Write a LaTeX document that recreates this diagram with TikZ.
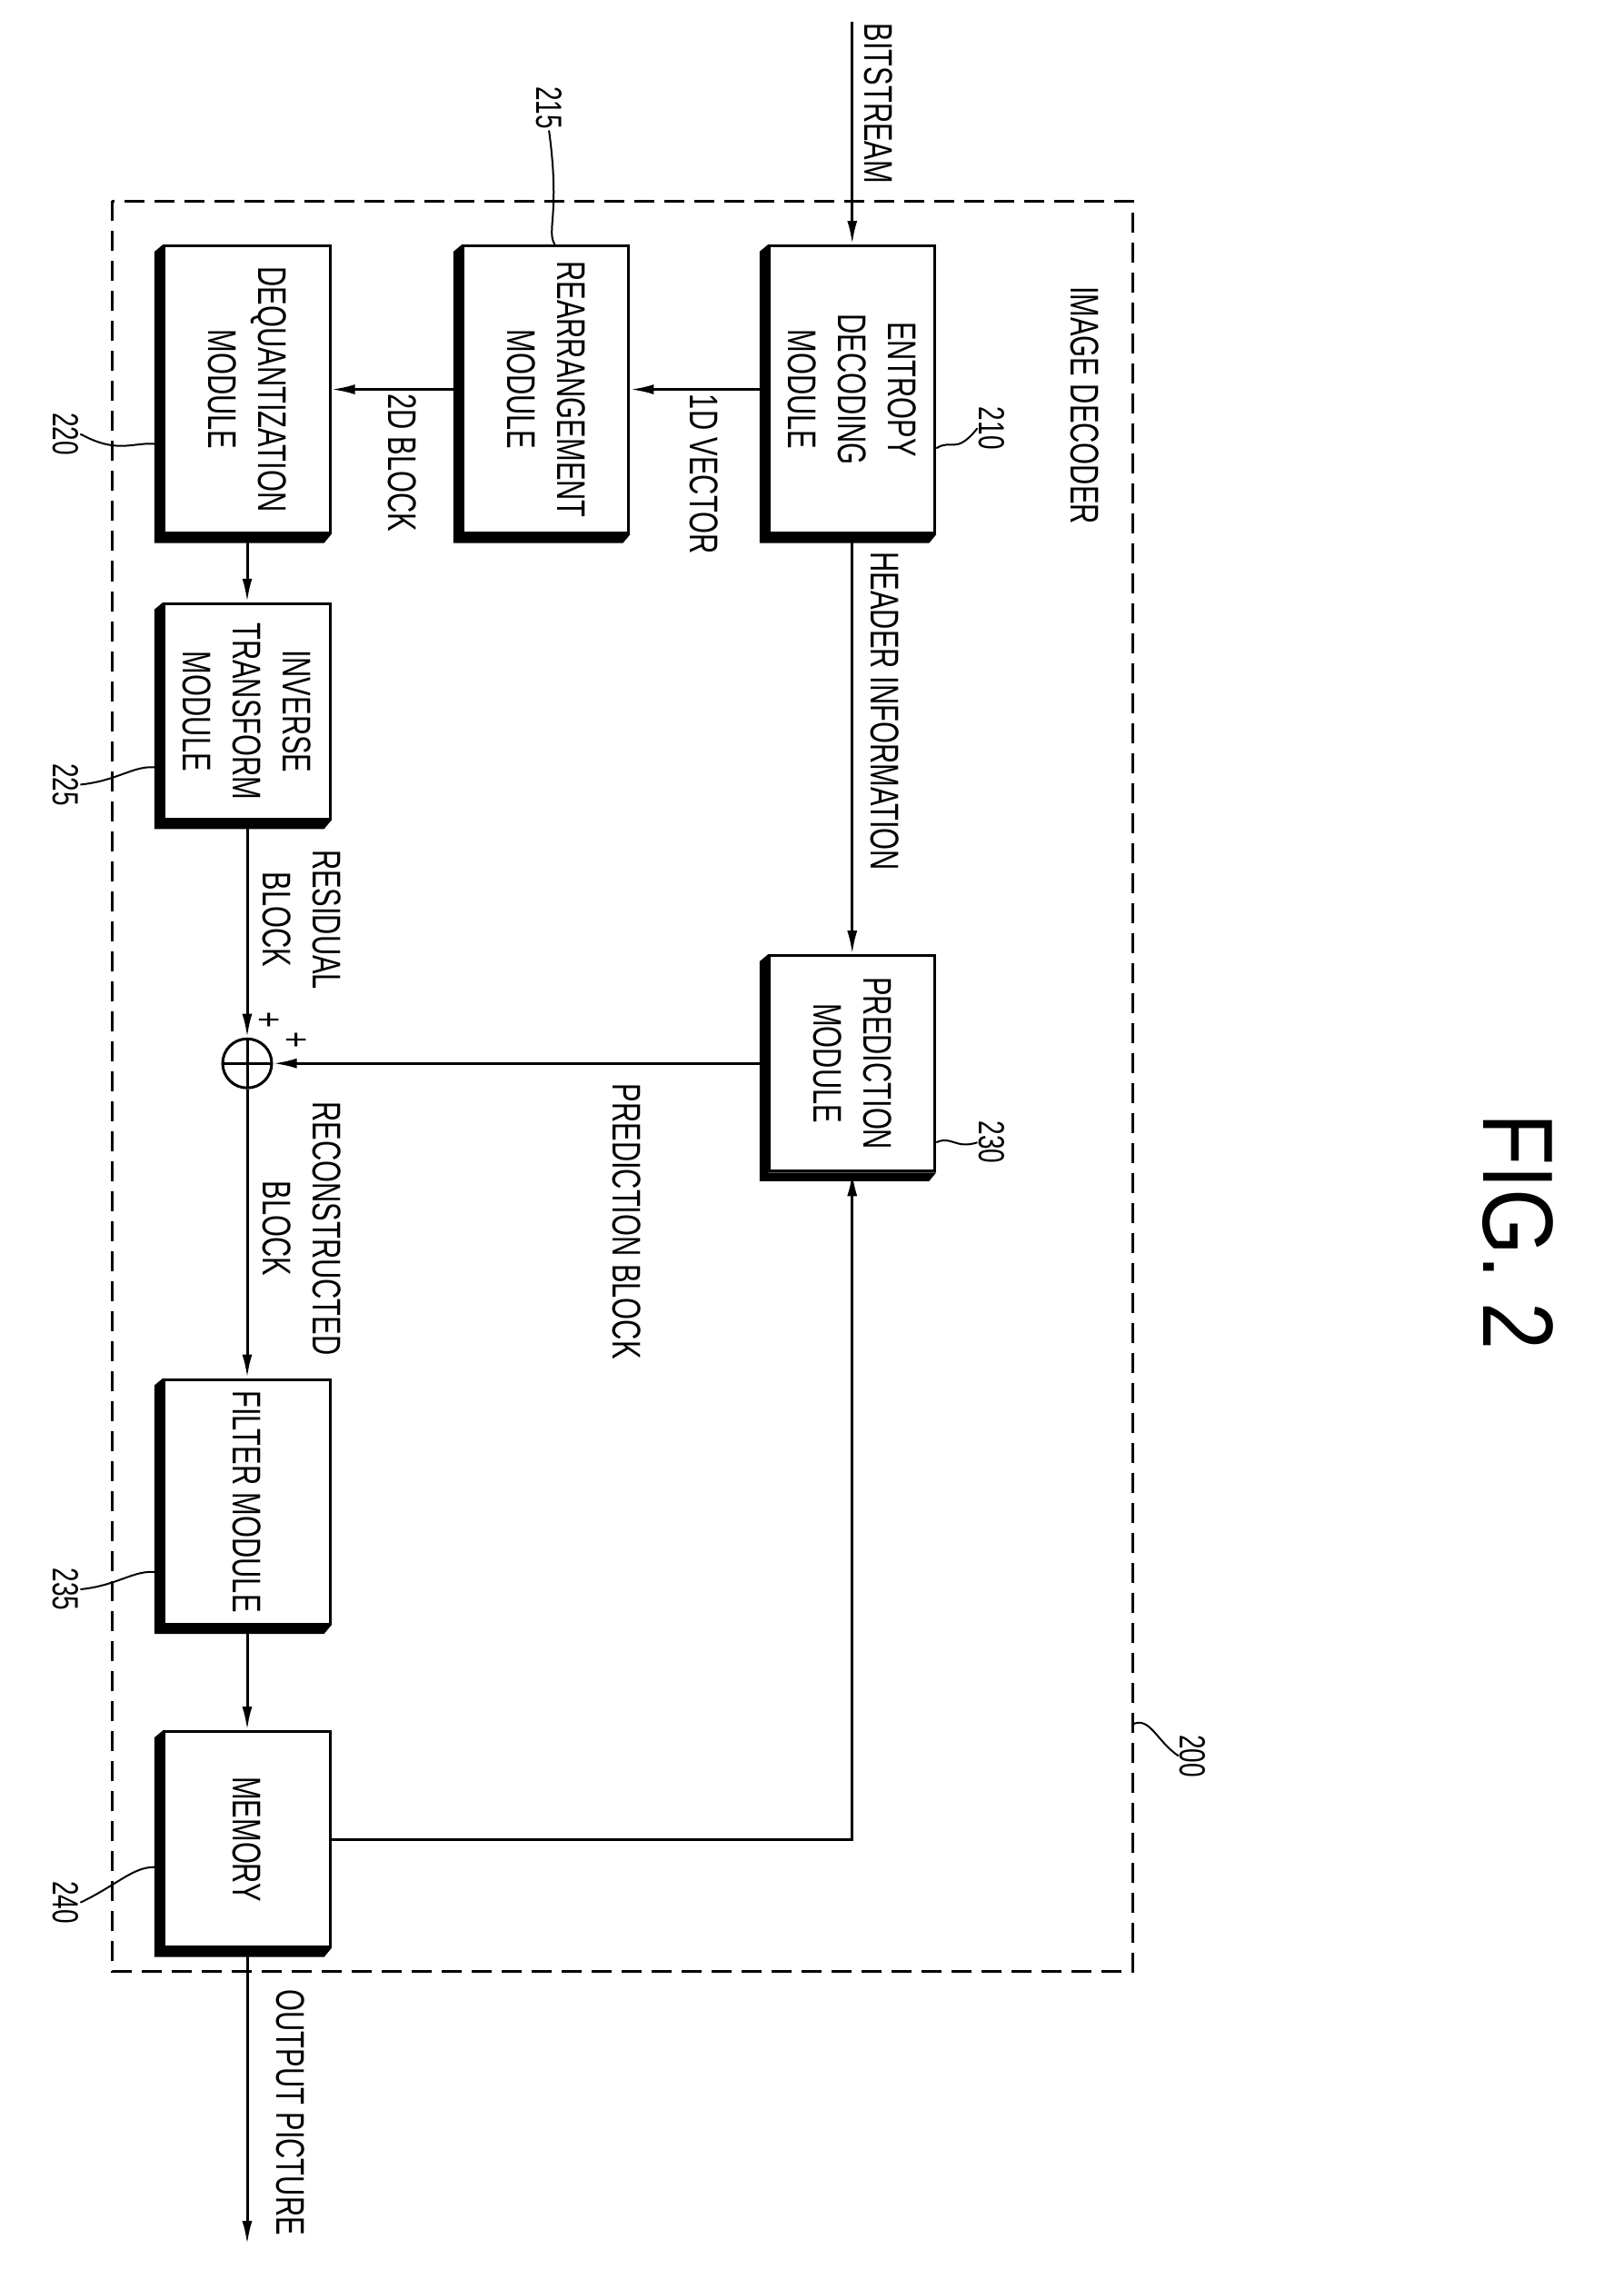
\documentclass[tikz,border=0pt]{standalone}
\usepackage{fontspec}
\setmainfont{Liberation Sans}[FakeStretch=0.7]
\newfontfamily\figfont{Liberation Sans}[FakeStretch=0.85]
\usetikzlibrary{calc,arrows.meta}
\begin{document}
\begin{tikzpicture}[x=1.581pt,y=-1.581pt,line width=3pt,
  every node/.style={font=\fontsize{44}{55}\selectfont},
  box/.style={draw,rotate=-90,fill=white,align=center,minimum height=182pt,inner sep=0pt},
  lbl/.style={rotate=-90,align=center,inner sep=0pt},
  num/.style={rotate=-90,inner sep=0pt,font=\fontsize{40}{44}\selectfont},
  arr/.style={-{Latex[length=26pt,width=11pt]}},
  lead/.style={line width=2pt}]
\useasboundingbox (0,0) rectangle (1130,1579);
\draw[dash pattern=on 22pt off 11pt] (78,140) rectangle (788,1372);
\newcommand{\shadow}[1]{\fill ($(#1.south west)$) -- ($(#1.south west)+(-6,5)$) -- ($(#1.south east)+(-6,6)$) -- ($(#1.north east)+(-5,6)$) -- ($(#1.north east)$) -- ($(#1.south east)$) -- cycle;}
\node[box,minimum width=316pt] (ent) at (593,271) {ENTROPY\\DECODING\\MODULE};
\node[box,minimum width=316pt] (rea) at (380,271) {REARRANGEMENT\\MODULE};
\node[box,minimum width=316pt] (deq) at (172,271) {DEQUANTIZATION\\MODULE};
\node[box,minimum width=237pt] (it) at (172,495) {INVERSE\\TRANSFORM\\MODULE};
\node[box,minimum width=237pt] (pred) at (593,740) {PREDICTION\\MODULE};
\node[box,minimum width=269pt] (fil) at (172,1045) {FILTER MODULE};
\node[box,minimum width=237pt] (mem) at (172,1280) {MEMORY};
\foreach \n in {ent,rea,deq,it,pred,fil,mem}{\shadow{\n}}
\node[circle,draw,minimum size=54pt,inner sep=0pt,
  path picture={\draw (path picture bounding box.north) -- (path picture bounding box.south) (path picture bounding box.west) -- (path picture bounding box.east);}] (sum) at (172,740) {};
\coordinate (in) at (593,15);
\coordinate (out) at (172,1562);
\draw[arr] (in) -- (ent.west);
\draw[arr] (ent.south) -- (rea.north);
\draw[arr] (rea.south) -- (deq.north);
\draw[arr] (deq.east) -- (it.west);
\draw[arr] (it.east) -- (sum.north);
\draw[arr] (ent.east) -- (pred.west);
\draw[arr] (pred.south) -- (sum.east);
\draw[arr] (sum.south) -- (fil.west);
\draw[arr] (fil.east) -- (mem.west);
\draw[arr] (mem.north) -| (pred.east);
\draw[arr] (mem.east) -- (out);
\node[lbl] (t1) at (611,72) {BITSTREAM};
\node[lbl] (t2) at (490,330) {1D VECTOR};
\node[lbl] (t3) at (280,322) {2D BLOCK};
\node[lbl] (t4) at (616,495) {HEADER INFORMATION};
\node[lbl] (t5) at (210,640) {RESIDUAL\\BLOCK};
\node[lbl] (t6) at (210,855) {RECONSTRUCTED\\BLOCK};
\node[lbl] (t7) at (436,850) {PREDICTION BLOCK};
\node[lbl] (t8) at (202,1470) {OUTPUT PICTURE};
\node[lbl] (t9) at (755,282) {IMAGE DECODER};
\node[lbl] (p1) at (186,710) {+};
\node[lbl] (p2) at (205,724) {+};
\node[rotate=-90,inner sep=0pt,font=\figfont\fontsize{110}{110}\selectfont] (fig) at (1056,857) {FIG. 2};
\node[num] (n210) at (690,298) {210};
\node[num] (n215) at (382,75) {215};
\node[num] (n220) at (46,302) {220};
\node[num] (n225) at (46,546) {225};
\node[num] (n230) at (690,795) {230};
\node[num] (n235) at (46,1106) {235};
\node[num] (n240) at (46,1324) {240};
\node[num] (n200) at (830,1222) {200};
\draw[lead] (ent.north |- 0,312) .. controls (662,305) and (665,317) .. (n210.south);
\draw[lead] (rea.west -| 386,0) .. controls (380,160) and (390,150) .. (n215.east);
\draw[lead] (deq.south |- 0,310) .. controls (95,305) and (85,318) .. (n220.north);
\draw[lead] (it.south |- 0,535) .. controls (95,530) and (85,543) .. (n225.north);
\draw[lead] (pred.north |- 0,795) .. controls (662,790) and (665,800) .. (n230.south);
\draw[lead] (fil.south |- 0,1095) .. controls (95,1090) and (85,1103) .. (n235.north);
\draw[lead] (mem.south |- 0,1300) .. controls (95,1296) and (85,1310) .. (n240.north);
\draw[lead] (788,1200) .. controls (800,1194) and (805,1212) .. (n200.south);
\end{tikzpicture}
\end{document}
